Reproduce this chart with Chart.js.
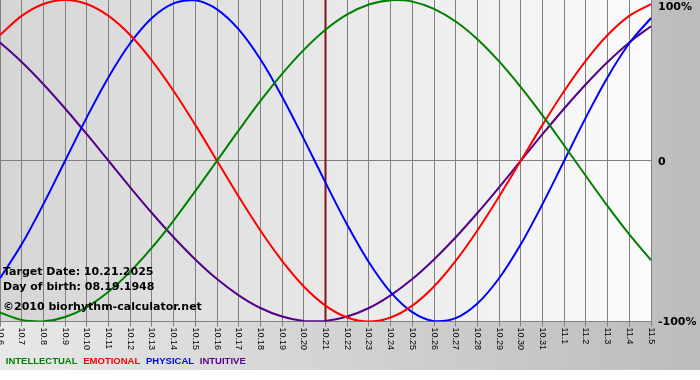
<!DOCTYPE html>
<html>
<head>
<meta charset="utf-8">
<title>Biorhythm</title>
<script src="https://cdn.jsdelivr.net/npm/chart.js@4.4.0/dist/chart.umd.min.js"></script>
<style>
  html, body { margin: 0; padding: 0; background: #fff; }
  #wrap { width: 700px; height: 380px; position: relative; }
</style>
</head>
<body>
<div id="wrap"><canvas id="chartBio"></canvas></div>
<script>
// dias (mes.dia)
const labels = ["10.6", "10.7", "10.8", "10.9", "10.10", "10.11", "10.12", "10.13", "10.14", "10.15",
  "10.16", "10.17", "10.18", "10.19", "10.20", "10.21", "10.22", "10.23", "10.24", "10.25",
  "10.26", "10.27", "10.28", "10.29", "10.30", "10.31", "11.1", "11.2", "11.3", "11.4", "11.5"];

// valores, en %
const intellectual = [-94.5, -99.0, -99.9, -97.2, -91.0, -81.5, -69.0, -54.1, -37.2, -18.9,
  0, 18.9, 37.2, 54.1, 69.0, 81.5, 91.0, 97.2, 99.9, 99.0,
  94.5, 86.6, 75.6, 61.8, 45.8, 28.2, 9.5, -9.5, -28.2, -45.8, -61.8];
const emotional = [78.2, 90.1, 97.5, 100, 97.5, 90.1, 78.2, 62.3, 43.4, 22.3,
  0, -22.3, -43.4, -62.3, -78.2, -90.1, -97.5, -100, -97.5, -90.1,
  -78.2, -62.3, -43.4, -22.3, 0, 22.3, 43.4, 62.3, 78.2, 90.1, 97.5];
const physical = [-73.1, -52.0, -27.0, 0, 27.0, 52.0, 73.1, 88.8, 97.9, 99.8,
  94.2, 81.7, 63.1, 39.8, 13.6, -13.6, -39.8, -63.1, -81.7, -94.2,
  -99.8, -97.9, -88.8, -73.1, -52.0, -27.0, 0, 27.0, 52.0, 73.1, 88.8];
const intuitive = [73.6, 61.4, 47.6, 32.5, 16.5, 0, -16.5, -32.5, -47.6, -61.4,
  -73.6, -83.7, -91.6, -96.9, -99.7, -99.7, -96.9, -91.6, -83.7, -73.6,
  -61.4, -47.6, -32.5, -16.5, 0, 16.5, 32.5, 47.6, 61.4, 73.6, 83.7];

const yTicks = [100, 0, -100];
const yTickLabels = ["100%", "0", "-100%"];
const targetDay = "10.21";
const infoLines = ["Target Date: 10.21.2025", "Day of birth: 08.19.1948", "\u00a92010 biorhythm-calculator.net"];

// fondo degradado del lienzo y del area del grafico
const fondoPlugin = {
  id: "fondo",
  beforeDraw: function (chart) {
    var ctx = chart.ctx;
    var a = chart.chartArea;
    ctx.save();
    ctx.fillStyle = "#fff";
    ctx.fillRect(0, 0, chart.width, chart.height);
    var g = ctx.createLinearGradient(0, 0, chart.width, 0);
    g.addColorStop(0, "#e8e8e8");
    g.addColorStop(1, "#bcbcbc");
    ctx.fillStyle = g;
    ctx.fillRect(0, 0, chart.width, 370);
    g = ctx.createLinearGradient(a.left, 0, a.right, 0);
    g.addColorStop(0, "#d5d5d5");
    g.addColorStop(1, "#fbfbfb");
    ctx.fillStyle = g;
    ctx.fillRect(a.left, a.top, a.right - a.left, a.bottom - a.top);
    ctx.restore();
  },
  // linea del dia objetivo
  beforeDatasetsDraw: function (chart) {
    var ctx = chart.ctx;
    var a = chart.chartArea;
    var x = chart.scales.x.getPixelForValue(labels.indexOf(targetDay));
    ctx.save();
    ctx.strokeStyle = "#801515";
    ctx.lineWidth = 2;
    ctx.beginPath();
    ctx.moveTo(x, a.top);
    ctx.lineTo(x, a.bottom);
    ctx.stroke();
    ctx.restore();
  }
};

// textos: etiquetas giradas, porcentajes y datos
const textosPlugin = {
  id: "textos",
  afterDraw: function (chart) {
    var ctx = chart.ctx;
    var a = chart.chartArea;
    var sx = chart.scales.x;
    var sy = chart.scales.y;
    ctx.save();
    ctx.fillStyle = "#000";
    ctx.font = "9px 'Liberation Sans', Arial, sans-serif";
    ctx.textAlign = "left";
    ctx.textBaseline = "middle";
    labels.forEach(function (l, i) {
      ctx.save();
      ctx.translate(sx.getPixelForValue(i), a.bottom + 6);
      ctx.rotate(Math.PI / 2);
      ctx.fillText(l, 0, 0);
      ctx.restore();
    });

    ctx.font = "bold 11px 'DejaVu Sans', Verdana, sans-serif";
    yTicks.forEach(function (v, i) {
      var y = sy.getPixelForValue(v);
      if (i === 0) y = a.top + 7;
      else y = y + 1;
      ctx.fillText(yTickLabels[i], a.right + 7, y);
    });

    ctx.fillText(infoLines[0], 3, 272);
    ctx.fillText(infoLines[1], 3, 287);
    ctx.fillText(infoLines[2], 3, 307);
    ctx.restore();
  }
};

function serie(label, values, color) {
  return {
    label: label,
    data: values,
    borderColor: color,
    backgroundColor: color,
    borderWidth: 2,
    pointRadius: 0,
    fill: false,
    tension: 0.35
  };
}

const dataBio = {
  labels: labels,
  datasets: [
    serie("INTELLECTUAL", intellectual, "#008000"),
    serie("EMOTIONAL", emotional, "#ff0000"),
    serie("PHYSICAL", physical, "#0000ff"),
    serie("INTUITIVE", intuitive, "#55008a")
  ]
};

const configBio = {
  type: "line",
  data: dataBio,
  options: {
    responsive: true,
    maintainAspectRatio: false,
    animation: false,
    layout: { padding: { left: 0, right: 49, top: 0, bottom: 4 } },
    scales: {
      x: {
        grid: { color: "#808080", lineWidth: 1, drawTicks: true, tickLength: 5 },
        border: { color: "#808080" },
        ticks: { display: false },
        afterFit: function (scale) { scale.height = 34; }
      },
      y: {
        position: "right",
        min: -100,
        max: 100,
        ticks: { display: false, stepSize: 100 },
        grid: {
          drawTicks: false,
          color: function (c) { return c.tick && c.tick.value === 0 ? "#808080" : "rgba(0,0,0,0)"; }
        },
        border: { display: false }
      }
    },
    plugins: {
      tooltip: { enabled: false },
      legend: {
        position: "bottom",
        align: "start",
        labels: {
          boxWidth: 0,
          boxHeight: 0,
          padding: 1,
          font: { family: "'Liberation Sans', Arial, sans-serif", size: 9.5, weight: "bold" },
          generateLabels: function (chart) {
            return chart.data.datasets.map(function (ds, i) {
              return {
                text: ds.label,
                fontColor: ds.borderColor,
                fillStyle: "rgba(0,0,0,0)",
                strokeStyle: "rgba(0,0,0,0)",
                lineWidth: 0,
                hidden: false,
                datasetIndex: i
              };
            });
          }
        }
      }
    }
  },
  plugins: [fondoPlugin, textosPlugin]
};

var chartBio = new Chart(document.getElementById("chartBio"), configBio);
</script>
</body>
</html>
